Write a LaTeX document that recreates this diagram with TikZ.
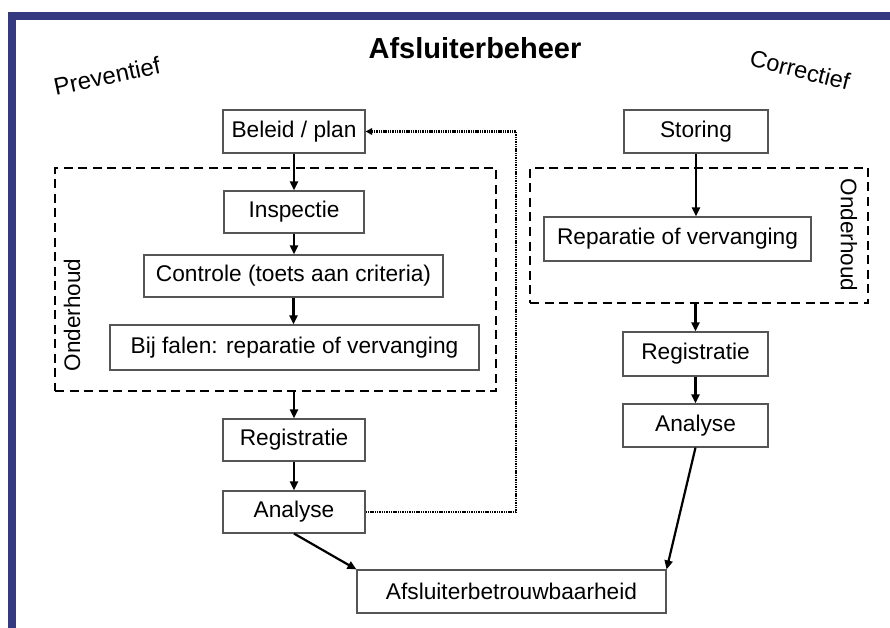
\documentclass[tikz,border=0pt]{standalone}
\usepackage{fontspec}
\setmainfont{Liberation Sans}
\usetikzlibrary{arrows.meta}
\definecolor{framebl}{RGB}{52,58,128}
\definecolor{boxln}{RGB}{85,85,85}
\begin{document}
\begin{tikzpicture}[x=1pt,y=-1pt,
  box/.style={draw=boxln,line width=1.1pt,fill=white,inner sep=0pt,font=\fontsize{22.7}{26}\selectfont},
  arr/.style={-{Triangle[length=9pt,width=8pt]},line width=2.2pt},
  dbox/.style={draw,line width=2.7pt,dash pattern=on 9pt off 5.5pt,inner sep=0pt},
  dotline/.style={-{Triangle[length=6.5pt,width=6.5pt]},line width=2.6pt,dash pattern=on 1.4pt off 0.9pt},
  lbl/.style={font=\fontsize{22.5}{26}\selectfont,inner sep=0pt}
]
\useasboundingbox (0,0) rectangle (890,628);
% frame
\fill[framebl] (8,12) rectangle (890,20);
\fill[framebl] (8,12) rectangle (16,628);

% titles
\node[font=\fontsize{29}{33}\selectfont\bfseries,anchor=base,inner sep=0pt] (title) at (475,59) {Afsluiterbeheer};
\node[lbl,rotate=12,font=\fontsize{24}{28}\selectfont] (prev) at (107,76) {Preventief};
\node[lbl,rotate=-14,font=\fontsize{23.5}{28}\selectfont] (corr) at (800,70) {Correctief};

% dashed groups
\node[dbox,minimum width=441pt,minimum height=223pt] (pbox) at (275.5,279.5) {};
\node[dbox,minimum width=338pt,minimum height=135pt] (cbox) at (699,235.5) {};
\node[lbl,rotate=90] (ond1) at (72,315) {Onderhoud};
\node[lbl,rotate=-90] (ond2) at (849,235) {Onderhoud};

% left column
\node[box,minimum width=142pt,minimum height=43pt] (bel) at (294,131.5) {Beleid / plan};
\node[box,minimum width=140pt,minimum height=42pt] (insp) at (294,212) {Inspectie};
\node[box,minimum width=299pt,minimum height=42pt] (ctrl) at (293.5,276) {Controle (toets aan criteria)};
\node[box,minimum width=369pt,minimum height=45pt] (bij) at (294.5,347.5) {Bij falen: reparatie of vervanging};
\node[box,minimum width=142pt,minimum height=42pt] (reg1) at (294,440) {Registratie};
\node[box,minimum width=142pt,minimum height=42pt] (ana1) at (294,512) {Analyse};

% right column
\node[box,minimum width=144pt,minimum height=43pt] (stor) at (696,131.5) {Storing};
\node[box,minimum width=267pt,minimum height=44pt] (rep) at (677.5,239) {Reparatie of vervanging};
\node[box,minimum width=145pt,minimum height=44pt] (reg2) at (695.5,354) {Registratie};
\node[box,minimum width=145pt,minimum height=43pt] (ana2) at (695.5,425.5) {Analyse};

% bottom
\node[box,minimum width=309pt,minimum height=43pt] (afs) at (511.5,591.5) {Afsluiterbetrouwbaarheid};

% arrows left
\draw[arr] (bel.south) -- (bel.south |- insp.north);
\draw[arr] (insp.south) -- (insp.south |- ctrl.north);
\draw[arr] (ctrl.south) -- (ctrl.south |- bij.north);
\draw[arr] (pbox.south -| reg1.north) -- (reg1.north);
\draw[arr] (reg1.south) -- (ana1.north);
\draw[arr] (ana1.south) -- (afs.north west);

% arrows right
\draw[arr] (stor.south) -- (stor.south |- rep.north);
\draw[arr] (cbox.south -| reg2.north) -- (reg2.north);
\draw[arr] (reg2.south) -- (ana2.north);
\draw[arr] (ana2.south) -- (afs.north east);

% feedback
\coordinate (fb) at (516,512);
\draw[dotline] (ana1.east) -- (ana1.east -| fb) -- (bel.east -| fb) -- (bel.east);
\end{tikzpicture}
\end{document}
